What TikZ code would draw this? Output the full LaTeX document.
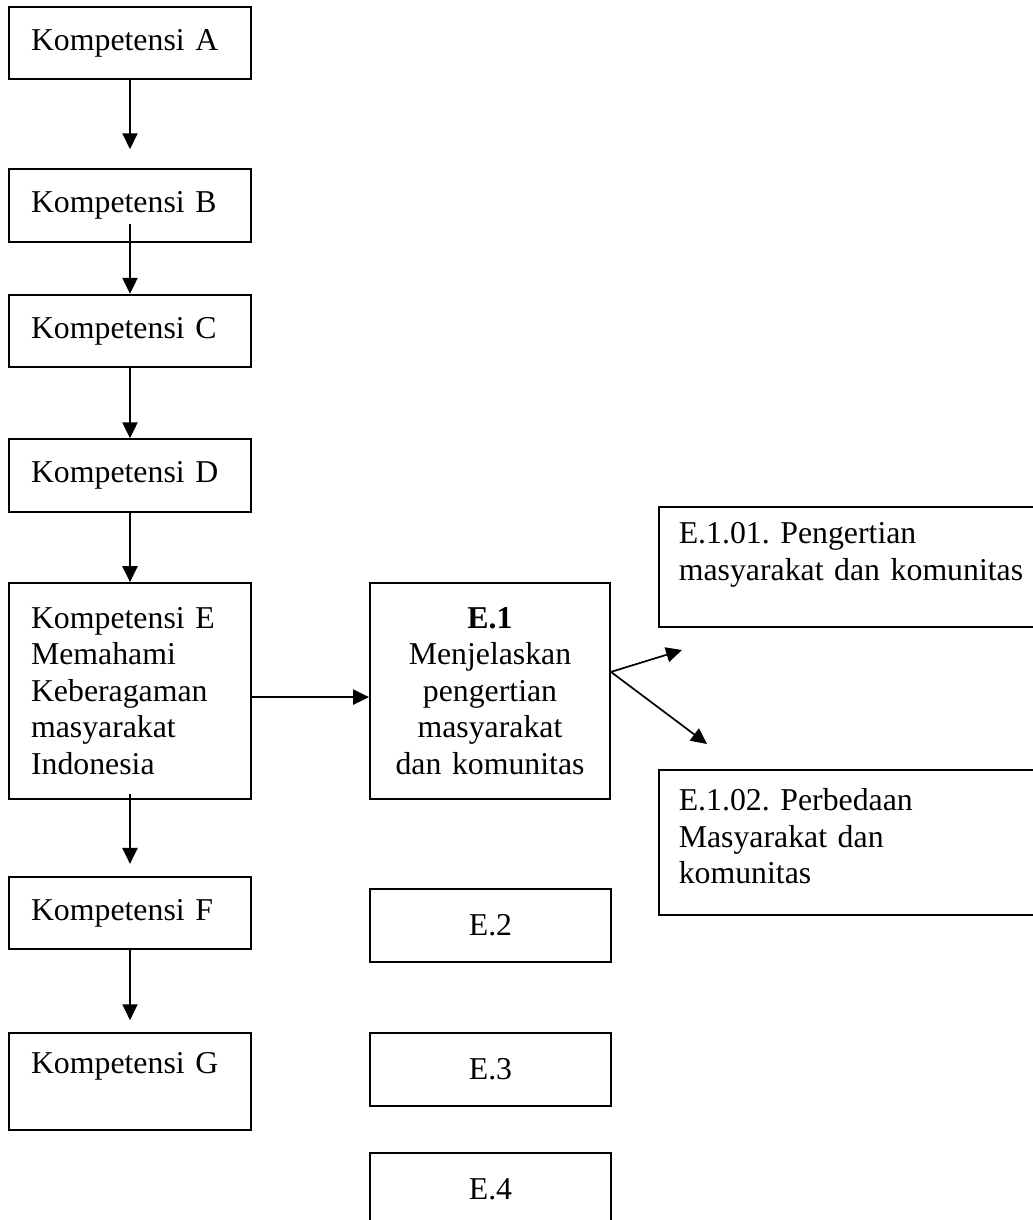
\documentclass[tikz,border=0pt]{standalone}
\usepackage{fontspec}
\setmainfont{Liberation Serif}
\usepackage{tikz}
\usetikzlibrary{arrows.meta,positioning}
\frenchspacing
\tikzstyle{block} = [rectangle, draw, line width=0.7pt, inner xsep=8.3pt,
    text width=74.7pt, align=left, minimum width=91.3pt, minimum height=27.4pt]
\tikzstyle{sub} = [rectangle, draw, line width=0.7pt, text width=80pt,
    align=center, minimum width=91pt, minimum height=27.5pt]
\tikzstyle{item} = [rectangle, draw, line width=0.7pt, anchor=north west,
    inner xsep=7.5pt, text width=143.5pt, align=left, minimum width=158.5pt]
\tikzstyle{line} = [draw, line width=0.65pt, -{Triangle[length=6pt,width=5.7pt]}]

\begin{document}
\begin{tikzpicture}[x=0.3774pt, y=-0.3774pt,
    font=\fontsize{12}{13.8}\selectfont]
  \useasboundingbox (0,0) rectangle (1033,1220);
  \clip (0,0) rectangle (1033,1220);
  % Place nodes
  \node [block] at (130,43) (kompA) {Kompetensi A};
  \node [block] at (130,205.5) (kompB) {Kompetensi B};
  \node [block] at (130,331) (kompC) {Kompetensi C};
  \node [block] at (130,475.5) (kompD) {Kompetensi D};
  \node [block, minimum height=81.5pt] at (130,691) (kompE)
  {Kompetensi E\\Memahami\\Keberagaman\\masyarakat\\Indonesia};
  \node [block] at (130,913) (kompF) {Kompetensi F};
  \node [block, minimum height=36.6pt] at (130,1081.5) (kompG)
  {Kompetensi G\\~};
  \node [sub, minimum width=90.6pt, minimum height=81.5pt] at (490,691) (E1)
  {\textbf{E.1}\\Menjelaskan\\pengertian\\masyarakat\\dan komunitas};
  \node [sub] at (490.5,925.5) (E2) {E.2};
  \node [sub] at (490.5,1069.5) (E3) {E.3};
  \node [sub] at (490.5,1189.5) (E4) {E.4};
  \node [item, minimum height=45.3pt] at (658,506) (E101)
  {E.1.01. Pengertian\\masyarakat dan komunitas\\[-2pt]~};
  \node [item, minimum height=54.7pt] at (658,769) (E102)
  {E.1.02. Perbedaan\\Masyarakat dan\\komunitas\\[-9pt]~};
  \coordinate (tipA) at (682,650);
  \coordinate (tipB) at (707,744);
  % Draw edges
  \draw [line, shorten >=7.2pt] (kompA.south) -- (kompB.north);
  \draw [line, shorten <=-7.2pt] (kompB.south) -- (kompC.north);
  \draw [line] (kompC.south) -- (kompD.north);
  \draw [line] (kompD.south) -- (kompE.north);
  \draw [line, shorten <=-2.3pt, shorten >=4.5pt] (kompE.south) -- (kompF.north);
  \draw [line, shorten >=4.5pt] (kompF.south) -- (kompG.north);
  \draw [line] ([yshift=-2.3pt]kompE.east) -- ([yshift=-2.3pt]E1.west);
  \draw [line] ([yshift=7.2pt]E1.east) -- (tipA);
  \draw [line] ([yshift=7.2pt]E1.east) -- (tipB);
\end{tikzpicture}
\end{document}
